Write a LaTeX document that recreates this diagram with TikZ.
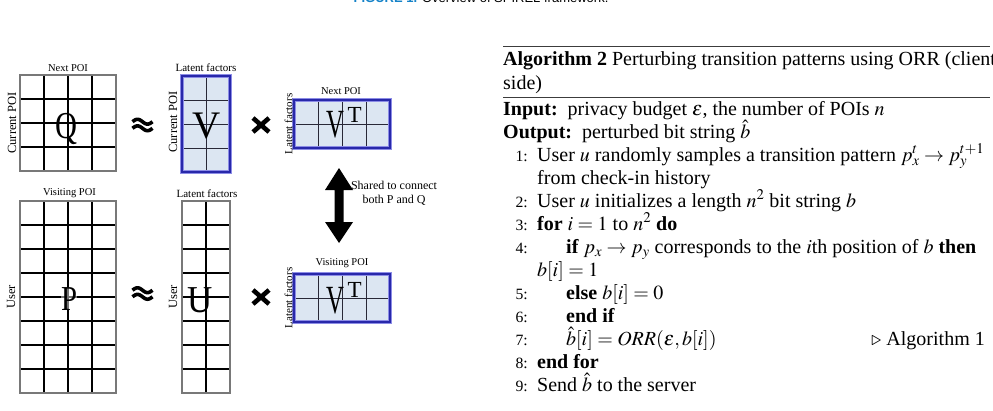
\documentclass[tikz,border=0pt]{standalone}
\usepackage{mathptmx}
\usepackage{fontspec}
\setmainfont{Liberation Serif}
\newfontfamily\capfont{Liberation Sans}
\definecolor{vfill}{RGB}{220,230,242}
\definecolor{vborder}{RGB}{40,40,170}
\definecolor{vhalo}{RGB}{140,140,230}
\definecolor{capblue}{RGB}{20,130,200}
\definecolor{rulegray}{RGB}{60,60,60}
\tikzset{
  gl/.style={line width=1.2pt, black},
  gb/.style={line width=1.4pt, draw={rgb,255:red,120;green,120;blue,120}},
  vl/.style={line width=1pt, draw={rgb,255:red,40;green,40;blue,55}},
  lab/.style={font=\fontsize{10.5}{12}\selectfont, inner sep=0pt},
  labL/.style={font=\fontsize{11}{12}\selectfont, inner sep=0pt},
  labR/.style={font=\fontsize{12.5}{14}\selectfont, inner sep=0pt, rotate=90},
  big/.style={inner sep=0pt, anchor=base},
  alg/.style={font=\fontsize{20}{23.3}\selectfont, anchor=base west, inner sep=0pt},
  num/.style={font=\fontsize{15.7}{18}\selectfont, anchor=base east, inner sep=0pt},
  sym/.style={line width=3.6pt, line cap=butt},
}
\newcommand\mgrid[4]{% x0, y0, cols, rows
  \foreach \k in {0,...,#3}{\draw[gl] ({#1+24*\k},#2) -- ++(0,{24*#4});}
  \foreach \k in {0,...,#4}{\draw[gl] (#1,{#2+24*\k}) -- ++({24*#3},0);}
  \draw[gb] (#1,#2) rectangle ++({24*#3},{24*#4});
}
\newcommand\vgrid[4]{% x0, y0, cols, rows
  \fill[vfill] (#1,#2) rectangle ++({24*#3},{24*#4});
  \foreach \k in {1,...,#3}{\draw[vl] ({#1+24*\k},#2) -- ++(0,{24*#4});}
  \foreach \k in {1,...,#4}{\draw[vl] (#1,{#2+24*\k}) -- ++({24*#3},0);}
  \draw[line width=4.6pt, vhalo] (#1,#2) rectangle ++({24*#3},{24*#4});
  \draw[line width=2.4pt, vborder] (#1,#2) rectangle ++({24*#3},{24*#4});
}
\newcommand\approxsym[2]{%
  \begin{scope}[shift={(#1,#2)}]
    \draw[sym] plot[domain=-10:10, samples=40, smooth] (\x, {-3.3+2.4*sin(\x*18)});
    \draw[sym] plot[domain=-10:10, samples=40, smooth] (\x, {3.3+2.4*sin(\x*18)});
  \end{scope}}
\newcommand\timessym[2]{%
  \begin{scope}[shift={(#1,#2)}]
    \draw[line width=4.6pt] (-8,-7) -- (8,7);
    \draw[line width=4.6pt] (-8,7) -- (8,-7);
  \end{scope}}
\begin{document}
\begin{tikzpicture}[x=1pt,y=-1pt]
\useasboundingbox (0,0) rectangle (993,410);
\fill[white] (0,0) rectangle (993,410);

% partially visible caption at the top edge
\node[anchor=base, inner sep=0pt, font=\capfont\fontsize{13}{13}\selectfont] (cap) at (481,2.4)
  {\textcolor{capblue}{\textbf{FIGURE 1.}} Overview of SPIREL framework.};

% ---------- top row: Q ~ V x V^T ----------
\mgrid{20}{75}{4}{4}
\node[lab, anchor=base] (qtop) at (68,71) {Next POI};
\node[labR] (qside) at (12,123) {Current POI};
\node[big, font=\fontsize{38}{38}\selectfont, xscale=0.8] (Q) at (66,138) {Q};

\approxsym{142.5}{125}

\vgrid{182}{76}{2}{4}
\node[labL, anchor=base] (vtop) at (206,71) {Latent factors};
\node[labR] (vside) at (173,122) {Current POI};
\node[big, font=\fontsize{39}{39}\selectfont] (V) at (207,138) {V};

\timessym{261}{125}

\vgrid{294}{100}{4}{2}
\node[lab, anchor=base] (vttop) at (341,94) {Next POI};
\node[labL, rotate=90] (vtside) at (288.5,124) {Latent factors};
\node[big, font=\fontsize{40}{40}\selectfont, xscale=0.62] (VT1) at (335.5,137) {V};
\node[inner sep=0pt, anchor=base west, font=\fontsize{23}{23}\selectfont] (T1) at (347.5,122) {T};

% ---------- shared arrow ----------
\coordinate (arT) at (339,168);
\coordinate (arB) at (339,243);
\fill (arT) -- ++(14,22) -- ++(-9.5,0) -- ++(0,32) -- ++(9.5,0) -- (arB)
  -- ++(-14,-21) -- ++(9.5,0) -- ++(0,-32) -- ++(-9.5,0) -- cycle;
\node[font=\fontsize{12}{14}\selectfont, align=center, inner sep=0pt, anchor=base] (shared) at (394,203)
  {Shared to connect\\[-0.5pt]both P and Q};

% ---------- bottom row: P ~ U x V^T ----------
\mgrid{20}{201}{4}{8}
\node[lab, anchor=base] (ptop) at (69.5,195) {Visiting POI};
\node[labR] (pside) at (11,297) {User};
\node[big, font=\fontsize{35}{35}\selectfont, xscale=0.82, fill=white, fill opacity=0.45, text opacity=1] (P) at (69,310) {P};

\approxsym{142.5}{293.5}

\mgrid{182}{201}{2}{8}
\node[labL, anchor=base] (utop) at (207,197) {Latent factors};
\node[labR] (uside) at (173,297) {User};
\node[big, font=\fontsize{38}{38}\selectfont, xscale=0.92] (U) at (200,312) {U};

\timessym{261}{297}

\vgrid{294}{274}{4}{2}
\node[lab, anchor=base] (vbtop) at (342,265) {Visiting POI};
\node[labL, rotate=90] (vbside) at (288.5,298) {Latent factors};
\node[big, font=\fontsize{40}{40}\selectfont, xscale=0.62] (VT2) at (335.5,313) {V};
\node[inner sep=0pt, anchor=base west, font=\fontsize{23}{23}\selectfont] (T2) at (347.5,297) {T};

% ---------- algorithm ----------
\draw[line width=1.5pt, rulegray] (503,46.7) -- (990,46.7);
\draw[line width=1pt, rulegray] (503,97.7) -- (990,97.7);
\node[alg] (h1) at (503,65) {\textbf{Algorithm 2} Perturbing transition patterns using ORR (client};
\node[alg] (h2) at (503,89) {side)};
\node[alg] (in) at (503,115) {\textbf{Input:}\hspace{0.5em}privacy budget $\varepsilon$, the number of POIs $n$};
\node[alg] (out) at (503,138) {\textbf{Output:}\hspace{0.5em}perturbed bit string $\hat{b}$};
\node[num] (n1) at (528,161) {1:};
\node[alg] (l1) at (537,161) {User $u$ randomly samples a transition pattern $p_x^t \rightarrow p_y^{t+1}$};
\node[alg] (l1b) at (537,184) {from check-in history};
\node[num] (n2) at (528,207) {2:};
\node[alg] (l2) at (537,207) {User $u$ initializes a length $n^2$ bit string $b$};
\node[num] (n3) at (528,230) {3:};
\node[alg] (l3) at (537,230) {\textbf{for} $i=1$ to $n^2$ \textbf{do}};
\node[num] (n4) at (528,253) {4:};
\node[alg] (l4) at (566,253) {\textbf{if} $p_x \rightarrow p_y$ corresponds to the $i$th position of $b$ \textbf{then}};
\node[alg] (l4b) at (537,276) {$b[i]=1$};
\node[num] (n5) at (528,299) {5:};
\node[alg] (l5) at (566,299) {\textbf{else} $b[i]=0$};
\node[num] (n6) at (528,322) {6:};
\node[alg] (l6) at (566,322) {\textbf{end if}};
\node[num] (n7) at (528,345) {7:};
\node[alg] (l7) at (566,345) {$\hat{b}[i]=ORR(\varepsilon,b[i])$};
\node[alg, anchor=base east] (c7) at (985,345) {$\triangleright$ Algorithm 1};
\node[num] (n8) at (528,368) {8:};
\node[alg] (l8) at (537,368) {\textbf{end for}};
\node[num] (n9) at (528,391) {9:};
\node[alg] (l9) at (537,391) {Send $\hat{b}$ to the server};
\end{tikzpicture}
\end{document}
